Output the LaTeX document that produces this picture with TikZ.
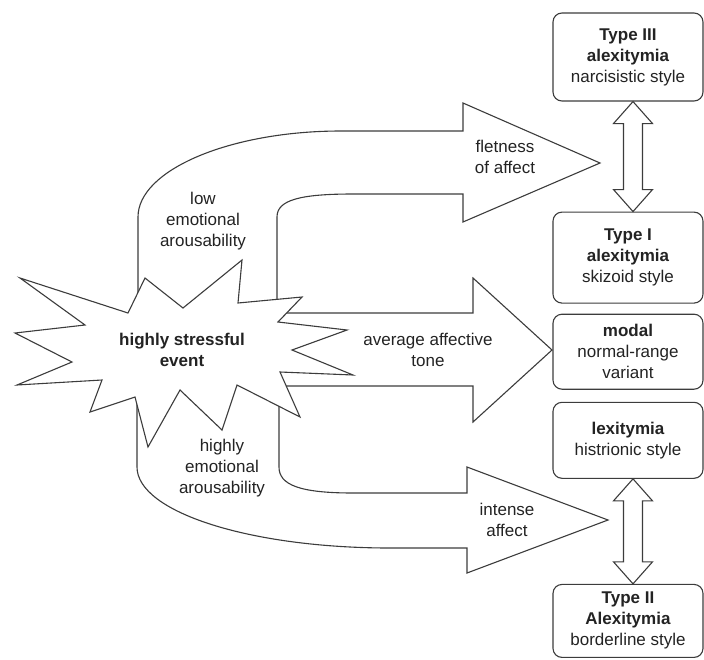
\documentclass[tikz,border=0pt]{standalone}
\usepackage{fontspec}
\setmainfont{Liberation Sans}
\usepackage{tikz}
\usetikzlibrary{positioning,calc}
\definecolor{linegray}{RGB}{60,60,60}
\definecolor{textgray}{RGB}{35,35,35}

\newcommand\dblarrow[2]{%
  \draw[dbl] let \p1=([xshift=5pt]#1.south), \p2=([xshift=5pt]#2.north) in
    (\x1,\y1) -- (\x1+19.5pt,\y1-22pt) -- (\x1+9.5pt,\y1-22pt) -- (\x2+9.5pt,\y2+22pt)
    -- (\x2+19.5pt,\y2+22pt) -- (\x2,\y2) -- (\x2-19.5pt,\y2+22pt) -- (\x2-9.5pt,\y2+22pt)
    -- (\x1-9.5pt,\y1-22pt) -- (\x1-19.5pt,\y1-22pt) -- cycle;}

\begin{document}
\begin{tikzpicture}[x=1pt, y=-1pt,
    every node/.style={font=\fontsize{17}{21}\selectfont, align=center, text=textgray},
    typebox/.style={draw=linegray, line width=1.1pt, rounded corners=9pt, fill=white, minimum width=150pt, inner sep=2pt},
    bigarrow/.style={draw=linegray, line width=1.1pt, fill=white, line join=miter},
    dbl/.style={draw=linegray, line width=1.1pt, fill=white}]
    \useasboundingbox (0,0) rectangle (704,659);

    \node[typebox, minimum height=88pt] (t3) at (628,57) {\textbf{Type III}\\\textbf{alexitymia}\\narcisistic style};
    \node[typebox, minimum height=91pt, below=110pt of t3] (t1) {\textbf{Type I}\\\textbf{alexitymia}\\skizoid style};
    \node[typebox, minimum height=75pt, below=10pt of t1] (modal) {\textbf{modal}\\normal-range\\variant};
    \node[typebox, minimum height=76pt, below=12pt of modal] (lex) {\textbf{lexitymia}\\histrionic style};
    \node[typebox, minimum height=73pt, below=105pt of lex] (t2) {\textbf{Type II}\\\textbf{Alexitymia}\\borderline style};

    \dblarrow{t3}{t1}
    \dblarrow{lex}{t2}

    \draw[bigarrow] (138,330) -- (138,217) .. controls (138,170) and (230,131) .. (341,131) -- (463,131)
        -- (463,103) -- (600,163) -- (463,222) -- (463,194) -- (353,194)
        .. controls (300,194) and (277,200) .. (277,217) -- (277,330) -- cycle;
    \draw[bigarrow] (137,380) -- (137,467) .. controls (137,512) and (250,548) .. (390,548) -- (467,548)
        -- (467,573) -- (608,520) -- (467,467) -- (467,493) -- (353,493)
        .. controls (300,493) and (279,485) .. (279,467) -- (279,380) -- cycle;
    \draw[bigarrow] (255,313) -- (473,313) -- (473,278) -- (552,350) -- (473,422) -- (473,386) -- (255,386) -- cycle;

    \draw[bigarrow] (20,278) -- (128,313) -- (145,278) -- (183,308) -- (242,260) -- (238,303)
        -- (302,297) -- (278,322) -- (347,330) -- (292,350) -- (353,375) -- (280,372)
        -- (300,417) -- (237,385) -- (222,430) -- (180,390) -- (148,447) -- (135,397)
        -- (90,412) -- (102,380) -- (17,385) -- (72,362) -- (15,333) -- (85,325) -- cycle;
    \node (event) at (182,350) {\textbf{highly stressful}\\\textbf{event}};

    \node (flat) at (505,157) {fletness\\of affect};
    \node (low) at (203,221) {low\\emotional\\arousability};
    \node (avg) at (428,350) {average affective\\tone};
    \node (high) at (222,468) {highly\\emotional\\arousability};
    \node (intense) at (507,520) {intense\\affect};
\end{tikzpicture}
\end{document}
